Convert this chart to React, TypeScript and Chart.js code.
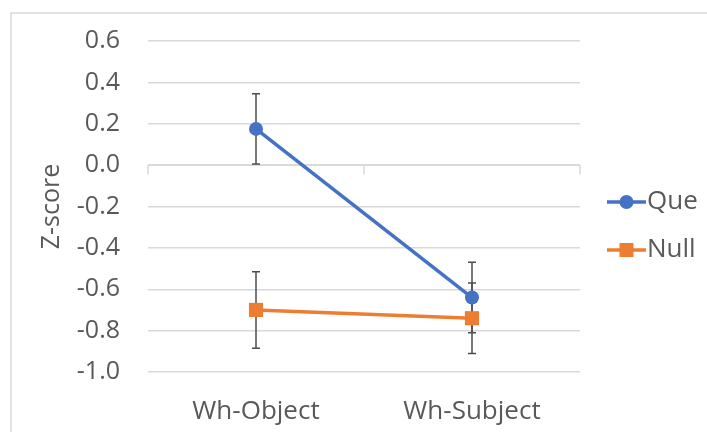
import React, { useEffect, useRef } from "react";
import { Chart, registerables } from "chart.js";

Chart.register(...registerables);

const categories = ["Wh-Object", "Wh-Subject"];
const seriesNames = ["Que", "Null"];
const queValues = [0.175, -0.64];
const nullValues = [-0.7, -0.74];
const queErrors = [0.17, 0.17];
const nullErrors = [0.185, 0.17];
const yMin = -1.0;
const yMax = 0.6;
const yStep = 0.2;

const FONT = "'Open Sans', 'Noto Sans', sans-serif";
const TEXT = "#595959";
const GRID = "#d9d9d9";

const framePlugin = {
  id: "frame",
  beforeDraw(chart: any) {
    const ctx = chart.ctx;
    ctx.save();
    ctx.fillStyle = "#ffffff";
    ctx.fillRect(0, 0, chart.width, chart.height);
    ctx.strokeStyle = GRID;
    ctx.lineWidth = 1.5;
    ctx.strokeRect(11, 13, chart.width + 50, chart.height + 50);
    ctx.restore();
  },
};

const zeroAxisPlugin = {
  id: "zeroAxis",
  beforeDatasetsDraw(chart: any) {
    const { ctx, chartArea, scales } = chart;
    const y = scales.y.getPixelForValue(0);
    const xs = scales.x;
    const n = categories.length;
    ctx.save();
    ctx.strokeStyle = GRID;
    ctx.lineWidth = 1.5;
    ctx.beginPath();
    ctx.moveTo(chartArea.left, y);
    ctx.lineTo(chartArea.right, y);
    for (let i = 0; i <= n; i++) {
      const x = xs.getPixelForValue(i - 0.5);
      ctx.moveTo(x, y);
      ctx.lineTo(x, y + 9);
    }
    ctx.stroke();
    ctx.restore();
  },
};

const errorBarPlugin = {
  id: "errorBars",
  beforeDatasetsDraw(chart: any) {
    const { ctx, scales } = chart;
    const errs = [queErrors, nullErrors];
    ctx.save();
    ctx.strokeStyle = "#4d4d4d";
    ctx.lineWidth = 1.5;
    chart.data.datasets.forEach((ds: any, di: number) => {
      ds.data.forEach((v: number, i: number) => {
        const x = scales.x.getPixelForValue(i);
        const yt = scales.y.getPixelForValue(v + errs[di][i]);
        const yb = scales.y.getPixelForValue(v - errs[di][i]);
        ctx.beginPath();
        ctx.moveTo(x, yt);
        ctx.lineTo(x, yb);
        ctx.moveTo(x - 4, yt);
        ctx.lineTo(x + 4, yt);
        ctx.moveTo(x - 4, yb);
        ctx.lineTo(x + 4, yb);
        ctx.stroke();
      });
    });
    ctx.restore();
  },
};

const legendPlugin = {
  id: "customLegend",
  afterDraw(chart: any) {
    const { ctx, chartArea } = chart;
    const x0 = chartArea.right + 27;
    const lineLen = 39;
    const rows = [202, 250];
    ctx.save();
    chart.data.datasets.forEach((ds: any, i: number) => {
      const y = rows[i];
      ctx.strokeStyle = ds.borderColor;
      ctx.lineWidth = 3.5;
      ctx.beginPath();
      ctx.moveTo(x0, y);
      ctx.lineTo(x0 + lineLen, y);
      ctx.stroke();
      ctx.fillStyle = ds.backgroundColor;
      const cx = x0 + lineLen / 2;
      if (ds.pointStyle === "rect") {
        ctx.fillRect(cx - 7, y - 7, 14, 14);
      } else {
        ctx.beginPath();
        ctx.arc(cx, y, 7, 0, Math.PI * 2);
        ctx.fill();
      }
      ctx.fillStyle = TEXT;
      ctx.font = `26px ${FONT}`;
      ctx.textBaseline = "middle";
      ctx.textAlign = "left";
      ctx.fillText(ds.label, x0 + lineLen + 1, y);
    });
    ctx.restore();
  },
};

export default function App() {
  const ref = useRef<HTMLCanvasElement>(null);
  useEffect(() => {
    if (!ref.current) return;
    const chart = new Chart(ref.current, {
      type: "line",
      data: {
        labels: categories,
        datasets: [
          {
            label: seriesNames[0],
            data: queValues,
            borderColor: "#4472C4",
            backgroundColor: "#4472C4",
            borderWidth: 3.5,
            pointStyle: "circle",
            pointRadius: 7,
            pointBorderWidth: 0,
          },
          {
            label: seriesNames[1],
            data: nullValues,
            borderColor: "#ED7D31",
            backgroundColor: "#ED7D31",
            borderWidth: 3.5,
            pointStyle: "rect",
            pointRadius: 10,
            pointBorderWidth: 0,
          },
        ],
      },
      options: {
        responsive: false,
        animation: false,
        layout: { padding: { top: 41, right: 127, bottom: 0, left: 0 } },
        plugins: { legend: { display: false }, tooltip: { enabled: false } },
        scales: {
          x: {
            offset: true,
            grid: { display: false, drawTicks: false },
            border: { display: false },
            ticks: { color: TEXT, font: { family: FONT, size: 26 }, padding: 24 },
            afterFit(scale: any) {
              scale.height = 60;
              scale.paddingLeft = 0;
              scale.paddingRight = 0;
            },
          },
          y: {
            min: yMin,
            max: yMax,
            grid: { color: GRID, lineWidth: 1.5, drawTicks: false },
            border: { display: false },
            ticks: {
              stepSize: yStep,
              color: TEXT,
              font: { family: FONT, size: 25 },
              padding: 28,
              callback: (v: any) => (Math.abs(v) < 1e-9 ? "0.0" : Number(v).toFixed(1)),
            },
            title: {
              display: true,
              text: "Z-score",
              color: TEXT,
              font: { family: FONT, size: 25 },
              padding: { top: 37, bottom: 0 },
            },
            afterFit(scale: any) {
              scale.width = 148;
              scale.paddingTop = 0;
              scale.paddingBottom = 0;
            },
          },
        },
      },
      plugins: [framePlugin, zeroAxisPlugin, errorBarPlugin, legendPlugin],
    });
    return () => chart.destroy();
  }, []);
  return (
    <div style={{ position: "fixed", left: 0, top: 0, width: 707, height: 432, background: "#fff" }}>
      <canvas ref={ref} width={707} height={432} style={{ width: 707, height: 432, display: "block" }} />
    </div>
  );
}
